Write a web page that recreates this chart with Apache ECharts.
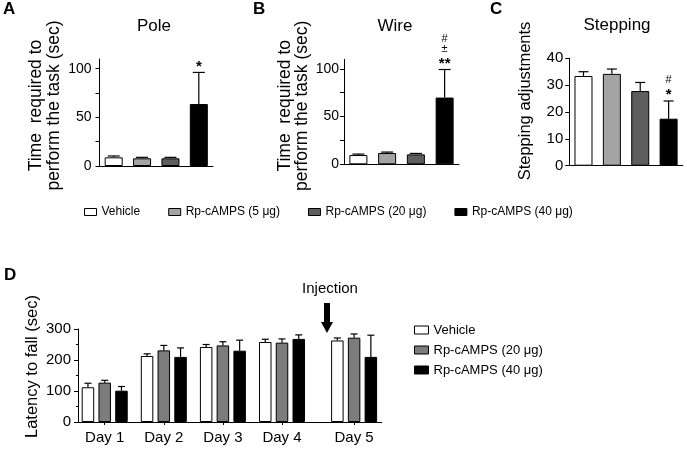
<!DOCTYPE html>
<html>
<head>
<meta charset="utf-8">
<script src="https://cdn.jsdelivr.net/npm/echarts@6/dist/echarts.min.js"></script>
<style>
    html, body { margin: 0; padding: 0; background: #fff; }
    #main { width: 687px; height: 450px; }
</style>
</head>
<body>
<div id="main"></div>
<script>
// treatment groups (panels A-C)
var groups = ['Vehicle', 'Rp-cAMPS (5 μg)', 'Rp-cAMPS (20 μg)', 'Rp-cAMPS (40 μg)'];
var groupColors = ['#ffffff', '#a4a4a4', '#5e5e5e', '#000000'];

// A: pole test
var poleMean = [8.9, 7.9, 7.9, 63.7];
var poleSem = [1.4, 1.0, 1.0, 32.5];
var poleSig = [[], [], [], ['*']];

// B: wire test
var wireMean = [9.7, 11.8, 10.4, 69.9];
var wireSem = [1.0, 1.0, 1.0, 29.4];
var wireSig = [[], [], [], ['**', '±', '#']];

// C: stepping
var stepMean = [33.4, 34.2, 27.8, 17.5];
var stepSem = [1.6, 1.8, 3.2, 6.6];
var stepSig = [[], [], [], ['*', '#']];

// D: rotarod, days (day 5 sits a little apart, after the injection)
var days = ['Day 1', 'Day 2', 'Day 3', 'Day 4', 'Day 5'];
var dayPos = [1, 2, 3, 4, 5.22];
var rodGroups = ['Vehicle', 'Rp-cAMPS (20 μg)', 'Rp-cAMPS (40 μg)'];
var rodColors = ['#ffffff', '#7c7c7c', '#000000'];
var rodVehicle = [112, 213, 242, 258, 263];
var rodVehicleSem = [13, 7, 8, 9, 8];
var rod20 = [127, 231, 247, 256, 272];
var rod20Sem = [7.5, 16, 12, 12, 12];
var rod40 = [101, 210, 230, 268, 210];
var rod40Sem = [13.5, 29, 34, 13, 70];

var FONT = 'Liberation Sans, Arial, sans-serif';

function errorBars(sig, cap, shift) {
    return function (params, api) {
        var bottom = api.coord([api.value(0), api.value(1)]);
        var top = api.coord([api.value(0), api.value(2)]);
        var x = bottom[0] + shift;
        var kids = [
            {type: 'line', shape: {x1: x, y1: bottom[1], x2: x, y2: top[1]}, style: {stroke: '#000', lineWidth: 1.2}},
            {type: 'line', shape: {x1: x - cap, y1: top[1], x2: x + cap, y2: top[1]}, style: {stroke: '#000', lineWidth: 1.2}}
        ];
        var marks = (sig && sig[params.dataIndex]) || [];
        marks.forEach(function (m, j) {
            kids.push({
                type: 'text',
                x: x,
                y: j === 0 ? top[1] - 6 : top[1] - 11 - 10 * j,
                style: {
                    text: m, fill: '#000', align: 'center', verticalAlign: 'middle',
                    font: j === 0 ? 'bold 15px ' + FONT : '11px ' + FONT
                }
            });
        });
        return {type: 'group', children: kids};
    };
}

var panels = [
    {mean: poleMean, sem: poleSem, sig: poleSig, grid: {left: 99.5, top: 59, width: 113.5, height: 107},
     max: 110, ticks: [0, 25, 50, 75, 100], labels: [0, 50, 100], fontSize: 14, margin: 8,
     name: 'Time  required to\nperform the task (sec)', nameSize: 17.5, nameGap: 37, namePad: [0, 0, 0, 14], cap: 6},
    {mean: wireMean, sem: wireSem, sig: wireSig, grid: {left: 344, top: 59.3, width: 115, height: 105},
     max: 110, ticks: [0, 25, 50, 75, 100], labels: [0, 50, 100], fontSize: 14, margin: 5,
     name: 'Time  required to\nperform the task (sec)', nameSize: 17.5, nameGap: 33, namePad: [0, 0, 0, 12], cap: 6},
    {mean: stepMean, sem: stepSem, sig: stepSig, grid: {left: 569.3, top: 58.3, width: 113.5, height: 107.4},
     max: 40, ticks: [0, 10, 20, 30, 40], labels: [0, 10, 20, 30, 40], fontSize: 15, margin: 6,
     name: 'Stepping adjustments', nameSize: 16.5, nameGap: 35, namePad: [0, 0, 0, 22], cap: 5}
];

var grids = [], xAxes = [], yAxes = [], series = [];

panels.forEach(function (p, k) {
    grids.push(p.grid);
    xAxes.push({
        type: 'category', gridIndex: k, data: groups,
        axisLine: {lineStyle: {color: '#000', width: 1}},
        axisTick: {show: false}, axisLabel: {show: false}
    });
    yAxes.push({
        type: 'value', gridIndex: k, min: 0, max: p.max,
        name: p.name, nameLocation: 'middle', nameGap: p.nameGap,
        nameTextStyle: {fontSize: p.nameSize, lineHeight: 17.5, color: '#000', fontFamily: FONT, padding: p.namePad},
        axisLine: {show: true, lineStyle: {color: '#000', width: 1}},
        axisTick: {show: true, length: 4, customValues: p.ticks, lineStyle: {color: '#000'}},
        axisLabel: {customValues: p.labels, fontSize: p.fontSize, color: '#000', margin: p.margin, fontFamily: FONT},
        splitLine: {show: false}
    });
    groups.forEach(function (g, i) {
        series.push({
            type: 'bar', name: g, xAxisIndex: k, yAxisIndex: k,
            barWidth: 18, barGap: '-100%',
            itemStyle: {color: groupColors[i], borderColor: '#000', borderWidth: 1},
            data: p.mean.map(function (v, j) { return j === i ? v : '-'; })
        });
    });
    series.push({
        type: 'custom', xAxisIndex: k, yAxisIndex: k, z: 5, silent: true,
        renderItem: errorBars(p.sig, p.cap, 0),
        data: p.mean.map(function (v, j) { return [j, v, v + p.sem[j]]; })
    });
});

// panel D
var rodMeans = [rodVehicle, rod20, rod40];
var rodSems = [rodVehicleSem, rod20Sem, rod40Sem];
var rodBarW = 12.5, rodGapRatio = 0.34;

grids.push({left: 78, top: 329, width: 303.7, height: 93});
xAxes.push({
    type: 'value', gridIndex: 3, min: 0.548, max: 5.687,
    axisLine: {lineStyle: {color: '#000', width: 1}},
    axisTick: {show: true, length: 3, customValues: dayPos, lineStyle: {color: '#000'}},
    axisLabel: {
        customValues: dayPos, fontSize: 15, color: '#000', margin: 8, fontFamily: FONT,
        formatter: function (v) { return days[dayPos.indexOf(v)] || ''; }
    },
    splitLine: {show: false}
});
yAxes.push({
    type: 'value', gridIndex: 3, min: 0, max: 300, interval: 100,
    name: 'Latency to fall (sec)', nameLocation: 'middle', nameGap: 37,
    nameTextStyle: {fontSize: 16.5, color: '#000', fontFamily: FONT, padding: [0, 0, 0, 18]},
    axisLine: {show: true, lineStyle: {color: '#000', width: 1}},
    axisTick: {show: true, length: 4, lineStyle: {color: '#000'}},
    minorTick: {show: true, splitNumber: 2, length: 2, lineStyle: {color: '#000'}},
    axisLabel: {fontSize: 15, color: '#000', margin: 7, fontFamily: FONT},
    splitLine: {show: false}
});
rodGroups.forEach(function (g, i) {
    series.push({
        type: 'bar', name: g, xAxisIndex: 3, yAxisIndex: 3,
        barWidth: rodBarW, barGap: (rodGapRatio * 100) + '%',
        itemStyle: {color: rodColors[i], borderColor: '#000', borderWidth: 1},
        data: dayPos.map(function (x, j) { return [x, rodMeans[i][j]]; })
    });
});
rodGroups.forEach(function (g, i) {
    series.push({
        type: 'custom', xAxisIndex: 3, yAxisIndex: 3, z: 5, silent: true,
        renderItem: errorBars(null, 3.5, (i - 1) * rodBarW * (1 + rodGapRatio)),
        data: dayPos.map(function (x, j) { return [x, rodMeans[i][j], rodMeans[i][j] + rodSems[i][j]]; })
    });
});

var chart = echarts.init(document.getElementById('main'));
chart.setOption({
    animation: false,
    backgroundColor: '#fff',
    textStyle: {fontFamily: FONT, color: '#000'},
    grid: grids,
    xAxis: xAxes,
    yAxis: yAxes,
    legend: [{
        data: groups, left: 84, top: 206, padding: 0, orient: 'horizontal', icon: 'rect',
        itemWidth: 12, itemHeight: 7, itemGap: 28,
        itemStyle: {borderColor: '#000', borderWidth: 1},
        textStyle: {fontSize: 12, color: '#000', fontFamily: FONT}
    }, {
        data: [{name: rodGroups[0]}, {name: rodGroups[1], itemStyle: {color: rodColors[1]}}, {name: rodGroups[2]}],
        left: 414, top: 323.5, padding: 0, orient: 'vertical', icon: 'rect',
        itemWidth: 14, itemHeight: 8, itemGap: 7,
        itemStyle: {borderColor: '#000', borderWidth: 1},
        textStyle: {fontSize: 13, color: '#000', fontFamily: FONT}
    }],
    graphic: [
        {type: 'text', x: 3, y: 9, style: {text: 'A', font: 'bold 17px ' + FONT, fill: '#000', verticalAlign: 'middle'}},
        {type: 'text', x: 253, y: 9, style: {text: 'B', font: 'bold 17px ' + FONT, fill: '#000', verticalAlign: 'middle'}},
        {type: 'text', x: 490, y: 9, style: {text: 'C', font: 'bold 17px ' + FONT, fill: '#000', verticalAlign: 'middle'}},
        {type: 'text', x: 4, y: 275, style: {text: 'D', font: 'bold 17px ' + FONT, fill: '#000', verticalAlign: 'middle'}},
        {type: 'text', x: 154, y: 26, style: {text: 'Pole', font: '17px ' + FONT, fill: '#000', align: 'center', verticalAlign: 'middle'}},
        {type: 'text', x: 395, y: 26, style: {text: 'Wire', font: '17px ' + FONT, fill: '#000', align: 'center', verticalAlign: 'middle'}},
        {type: 'text', x: 617, y: 25, style: {text: 'Stepping', font: '17px ' + FONT, fill: '#000', align: 'center', verticalAlign: 'middle'}},
        {type: 'text', x: 330, y: 289, style: {text: 'Injection', font: '15px ' + FONT, fill: '#000', align: 'center', verticalAlign: 'middle'}},
        {type: 'polygon', shape: {points: [[324, 303], [330, 303], [330, 322], [333, 322], [327, 333], [321, 322], [324, 322]]}, style: {fill: '#000'}}
    ],
    series: series
});
</script>
</body>
</html>
